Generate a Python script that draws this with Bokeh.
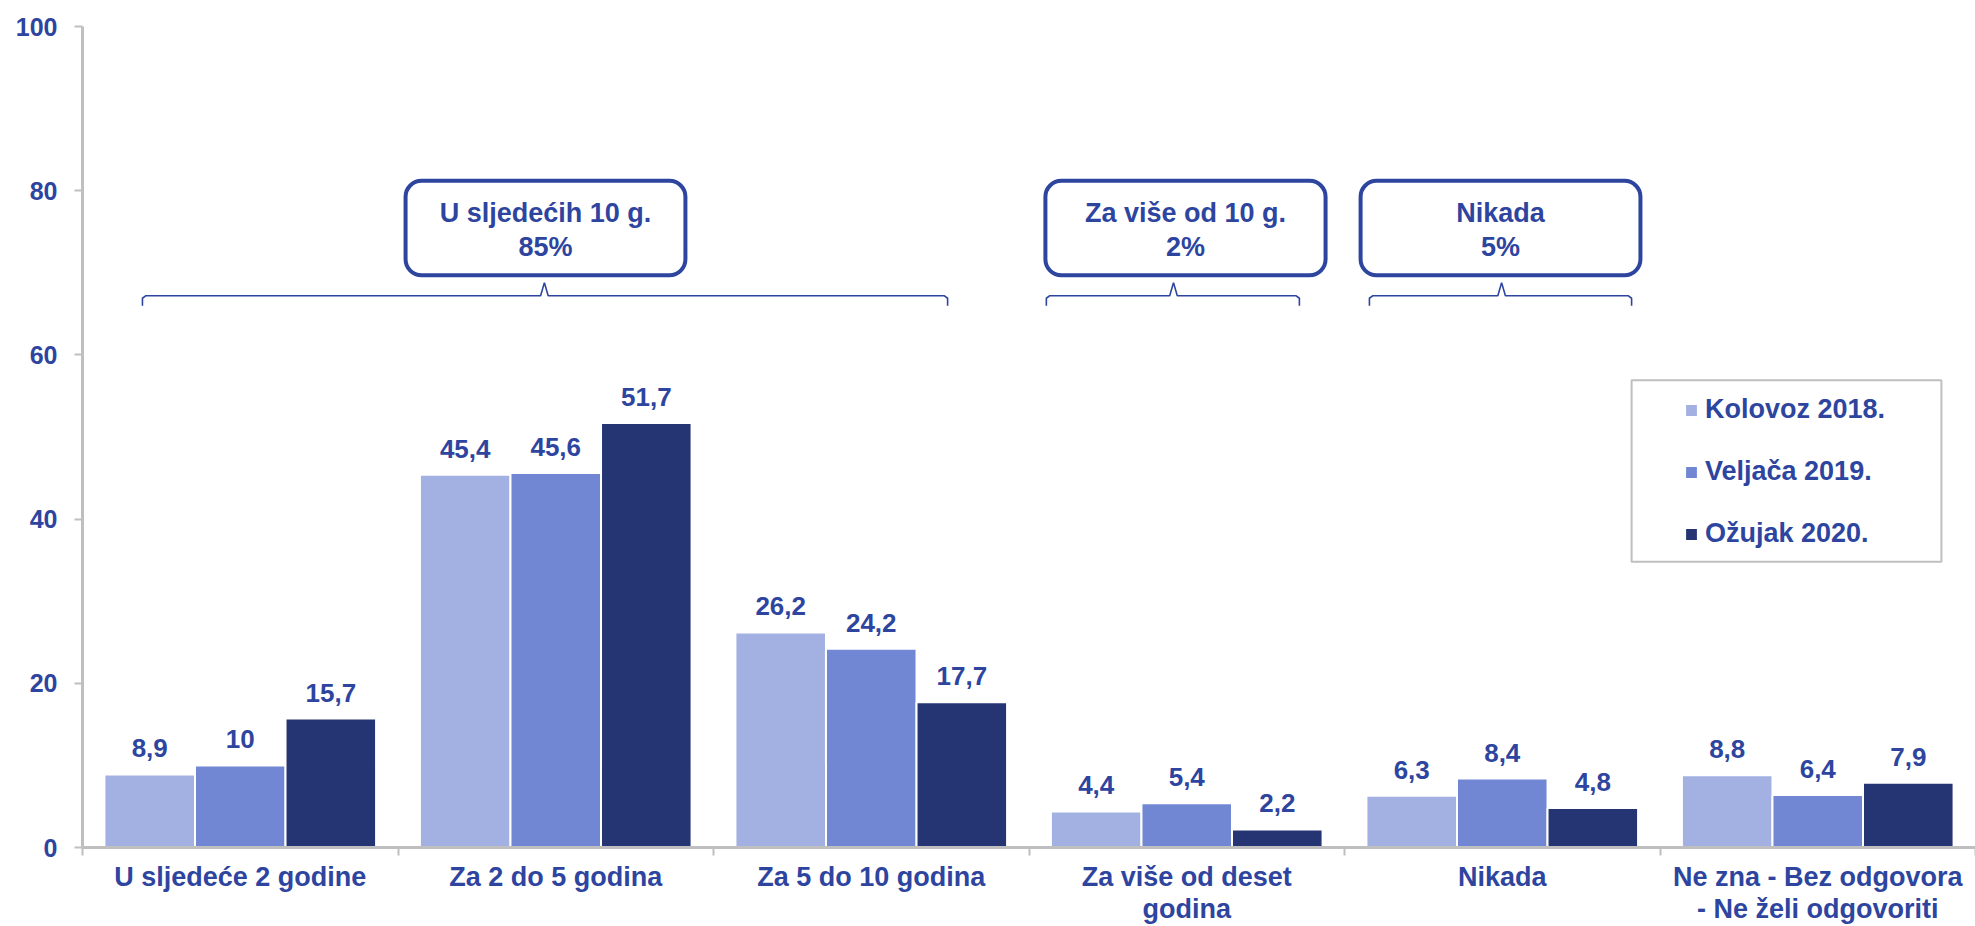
from bokeh.plotting import figure
from bokeh.models import (FixedTicker, BoxAnnotation, LabelSet, Label, ColumnDataSource,
                          Legend, LegendItem, Range1d)
from bokeh.core.properties import value
from bokeh.embed import file_html
from bokeh.resources import INLINE

# ---- data ----
categories = ["U sljedeće 2 godine", "Za 2 do 5 godina", "Za 5 do 10 godina",
              "Za više od deset\ngodina", "Nikada", "Ne zna - Bez odgovora\n- Ne želi odgovoriti"]
series_names = ["Kolovoz 2018.", "Veljača 2019.", "Ožujak 2020."]
kolovoz_2018 = [8.9, 45.4, 26.2, 4.4, 6.3, 8.8]
veljaca_2019 = [10, 45.6, 24.2, 5.4, 8.4, 6.4]
ozujak_2020 = [15.7, 51.7, 17.7, 2.2, 4.8, 7.9]
y_ticks = [0, 20, 40, 60, 80, 100]
group_titles = ["U sljedećih 10 g.", "Za više od 10 g.", "Nikada"]
group_shares = ["85%", "2%", "5%"]

# ---- style ----
FONT = "Liberation Sans"
TEXT = "#2E459F"
GRAY = "#BFBFBF"
colors = ["#A3B1E2", "#7187D4", "#253574"]
BAR_W = 0.287

p = figure(width=1975, height=926, output_backend="svg", toolbar_location=None,
           x_range=Range1d(0, 6), y_range=Range1d(0, 100),
           min_border_left=82, min_border_right=0, min_border_top=26, min_border_bottom=79)
p.outline_line_color = None
p.background_fill_color = "white"
p.border_fill_color = "white"

series = [kolovoz_2018, veljaca_2019, ozujak_2020]
renderers = []
for i, (vals, col) in enumerate(zip(series, colors)):
    xs = [k + 0.5 + (i - 1) * BAR_W for k in range(len(categories))]
    labels = [("%g" % v).replace(".", ",") for v in vals]
    src = ColumnDataSource(dict(x=xs, top=vals, lab=labels))
    r = p.vbar(x="x", top="top", width=BAR_W, bottom=0, source=src,
               fill_color=col, line_color="white", line_width=2)
    renderers.append(r)
    p.add_layout(LabelSet(x="x", y="top", text="lab", source=src, y_offset=17,
                          text_align="center", text_baseline="alphabetic",
                          text_font=value(FONT), text_font_size="26px",
                          text_font_style="bold", text_color=TEXT))

# ---- axes ----
xa = p.xaxis[0]
xa.ticker = FixedTicker(ticks=[k + 0.5 for k in range(6)], minor_ticks=list(range(7)))
xa.major_label_overrides = {k + 0.5: c for k, c in enumerate(categories)}
xa.major_tick_out = 0
xa.major_tick_in = 0
xa.minor_tick_out = 8
xa.minor_tick_in = 0
xa.minor_tick_line_color = GRAY
xa.minor_tick_line_width = 2
xa.axis_line_color = GRAY
xa.axis_line_width = 3
xa.major_label_standoff = 6
xa.major_label_text_font = FONT
xa.major_label_text_font_size = "27px"
xa.major_label_text_font_style = "bold"
xa.major_label_text_color = TEXT
xa.major_label_text_line_height = 1.07

ya = p.yaxis[0]
ya.ticker = FixedTicker(ticks=y_ticks)
ya.major_tick_out = 8
ya.major_tick_in = 0
ya.major_tick_line_color = GRAY
ya.major_tick_line_width = 2
ya.minor_tick_line_color = None
ya.axis_line_color = GRAY
ya.axis_line_width = 3
ya.major_label_standoff = 17
ya.major_label_text_font = FONT
ya.major_label_text_font_size = "25px"
ya.major_label_text_font_style = "bold"
ya.major_label_text_color = TEXT

p.xgrid.grid_line_color = None
p.ygrid.ticker = FixedTicker(ticks=[100])
p.ygrid.grid_line_color = GRAY
p.ygrid.grid_line_width = 3

# ---- group brackets and boxes ----
boxes = [(1.024, 1.911), (3.052, 3.940), (4.051, 4.938)]
brackets = [(0.190, 1.464, 2.742), (3.055, 3.458, 3.857), (4.079, 4.498, 4.910)]
for (bl, br), (x0, xc, x1), title, share in zip(boxes, brackets, group_titles, group_shares):
    xs = [x0, x0, x0 + 0.01, xc - 0.012, xc, xc + 0.012, x1 - 0.01, x1, x1]
    ys = [66.0, 66.9, 67.2, 67.2, 68.8, 67.2, 67.2, 66.9, 66.0]
    p.line(xs, ys, line_color=TEXT, line_width=1.6)
    p.add_layout(BoxAnnotation(left=bl, right=br, bottom=69.7, top=81.2,
                               fill_color="white", fill_alpha=1,
                               line_color=TEXT, line_alpha=1, line_width=4, border_radius=16))
    cx = (bl + br) / 2
    p.add_layout(Label(x=cx, y=77.3, text=title, text_align="center", text_baseline="middle",
                       text_font=FONT, text_font_size="27px", text_font_style="bold",
                       text_color=TEXT))
    p.add_layout(Label(x=cx, y=73.2, text=share, text_align="center", text_baseline="middle",
                       text_font=FONT, text_font_size="27px", text_font_style="bold",
                       text_color=TEXT))

# ---- legend ----
p.add_layout(BoxAnnotation(left=4.910, right=5.892, bottom=34.8, top=56.9,
                           fill_color="white", fill_alpha=1,
                           line_color=GRAY, line_alpha=1, line_width=2))
legend = Legend(items=[LegendItem(label=n, renderers=[r]) for n, r in zip(series_names, renderers)],
                location=(1601, 298), padding=0, margin=0,
                border_line_color=None, background_fill_alpha=0,
                glyph_width=16, glyph_height=16, label_standoff=6, spacing=31, label_height=30,
                label_text_font=FONT, label_text_font_size="27px",
                label_text_font_style="bold", label_text_color=TEXT)
p.add_layout(legend)

open("out.html", "w").write(file_html(p, INLINE))
